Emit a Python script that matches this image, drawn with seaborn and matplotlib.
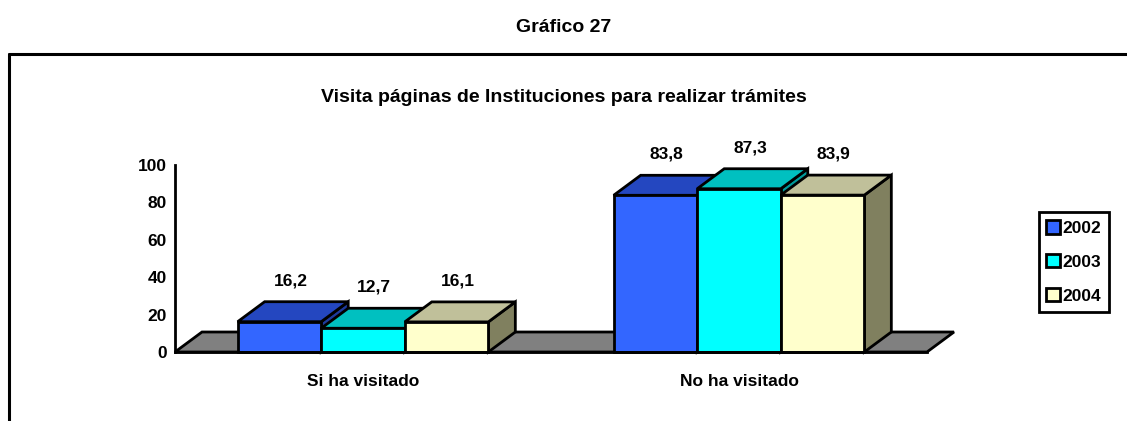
import matplotlib
matplotlib.use("Agg")
import matplotlib.pyplot as plt
import seaborn as sns
import pandas as pd
from matplotlib.patches import Polygon, Patch
from matplotlib.lines import Line2D

categories = ["Si ha visitado", "No ha visitado"]
years = ["2002", "2003", "2004"]
v2002 = [16.2, 83.8]
v2003 = [12.7, 87.3]
v2004 = [16.1, 83.9]
yticks = [0, 20, 40, 60, 80, 100]

front_colors = ["#3366FF", "#00FFFF", "#FFFFCC"]
top_colors = ["#2447C0", "#00C0C0", "#C0C09A"]
side_colors = ["#1E3A9C", "#009A9A", "#80805F"]

rows = []
for yr, vals in zip(years, [v2002, v2003, v2004]):
    for c, v in zip(categories, vals):
        rows.append({"cat": c, "year": yr, "val": v})
df = pd.DataFrame(rows)

sns.set_style("white")
FONT = ["Liberation Sans Narrow", "Liberation Sans", "DejaVu Sans"]
plt.rcParams["font.family"] = FONT
plt.rcParams["font.weight"] = "bold"
plt.rcParams["text.color"] = "black"
plt.rcParams["xtick.color"] = "black"
plt.rcParams["ytick.color"] = "black"
plt.rcParams["axes.labelcolor"] = "black"

W, H = 1127, 421
fig = plt.figure(figsize=(W / 100, H / 100), dpi=100)
ax_l, ax_r, ax_b, ax_t = 175, 927, 352, 165
ax = fig.add_axes([ax_l / W, (H - ax_b) / H, (ax_r - ax_l) / W, (ax_b - ax_t) / H])

sns.barplot(data=df, x="cat", y="val", hue="year", palette=front_colors,
            width=2 / 3, gap=0, edgecolor="black", linewidth=2, ax=ax,
            saturation=1, legend=False, zorder=5)

xlim = (-0.5, 1.5)
ylim = (0, 100)
ax.set_xlim(*xlim)
ax.set_ylim(*ylim)

# depth offsets in data units
ddx = 27 * (xlim[1] - xlim[0]) / (ax_r - ax_l)
ddy = 20 * (ylim[1] - ylim[0]) / (ax_b - ax_t)

# floor
floor = Polygon([(xlim[0], 0), (xlim[1], 0), (xlim[1] + ddx, ddy), (xlim[0] + ddx, ddy)],
                closed=True, facecolor="#808080", edgecolor="black", linewidth=2,
                zorder=1, clip_on=False)
ax.add_patch(floor)

# 3D faces
bars = [b for b in ax.patches if b is not floor]
bars_sorted = sorted(bars, key=lambda b: b.get_x())
for i, b in enumerate(bars_sorted):
    x0 = b.get_x()
    w = b.get_width()
    h = b.get_height()
    k = i % 3
    z = 5 + i * 0.1
    b.set_zorder(z + 0.05)
    b.set_clip_on(False)
    top = Polygon([(x0, h), (x0 + w, h), (x0 + w + ddx, h + ddy), (x0 + ddx, h + ddy)],
                  closed=True, facecolor=top_colors[k], edgecolor="black",
                  linewidth=2, zorder=z, clip_on=False, joinstyle="miter")
    side = Polygon([(x0 + w, 0), (x0 + w + ddx, ddy), (x0 + w + ddx, h + ddy), (x0 + w, h)],
                   closed=True, facecolor=side_colors[k], edgecolor="black",
                   linewidth=2, zorder=z, clip_on=False, joinstyle="miter")
    ax.add_patch(side)
    ax.add_patch(top)
    ax.text(x0 + w / 2 + 0.03, h + 22, f"{h:.1f}".replace(".", ","),
            ha="center", va="center", fontsize=12.5, fontweight="bold", zorder=10,
            color="black")

# axes styling
for s in ["top", "right"]:
    ax.spines[s].set_visible(False)
for s in ["left", "bottom"]:
    ax.spines[s].set_linewidth(2)
    ax.spines[s].set_color("black")
    ax.spines[s].set_zorder(20)
ax.set_yticks(yticks)
ax.set_yticklabels([str(t) for t in yticks])
ax.tick_params(axis="y", direction="out", length=5, width=2, labelsize=12.5, pad=1,
               colors="black")
ax.set_xticks([0, 1])
ax.set_xticklabels(categories)
ax.tick_params(axis="x", length=0, labelsize=12.5, pad=16, colors="black")
ax.set_xticks([-0.5, 0.5, 1.5], minor=True)
ax.tick_params(axis="x", which="minor", direction="out", length=4, width=2, colors="black")
ax.set_xlabel("")
ax.set_ylabel("")
for lab in ax.get_xticklabels() + ax.get_yticklabels():
    lab.set_fontweight("bold")
ax.patch.set_alpha(0)

# titles
fig.text(0.5, 1 - 28 / H, "Gráfico 27", ha="center", va="center", fontsize=14,
         fontweight="bold", color="black")
fig.text(0.5, 1 - 97 / H, "Visita páginas de Instituciones para realizar trámites",
         ha="center", va="center", fontsize=14, fontweight="bold", color="black")

# frame
fig.add_artist(Line2D([9 / W, 9 / W], [1 - 54 / H, 0], color="black", linewidth=2.2,
                      transform=fig.transFigure))
fig.add_artist(Line2D([9 / W, 1], [1 - 54 / H, 1 - 54 / H], color="black", linewidth=2.2,
                      transform=fig.transFigure))

# legend
handles = [Patch(facecolor=c, edgecolor="black", linewidth=2) for c in front_colors]
leg = fig.legend(handles, years, loc="center", bbox_to_anchor=(1074 / W, 1 - 262 / H),
                 frameon=True, fancybox=False, framealpha=1, fontsize=12.5,
                 handlelength=0.8, handleheight=0.8, handletextpad=0.15,
                 labelspacing=1.05, borderpad=0.45, borderaxespad=0)
leg.get_frame().set_edgecolor("black")
leg.get_frame().set_linewidth(2)
for t in leg.get_texts():
    t.set_fontweight("bold")
    t.set_color("black")

fig.savefig("out.png", dpi=100)
